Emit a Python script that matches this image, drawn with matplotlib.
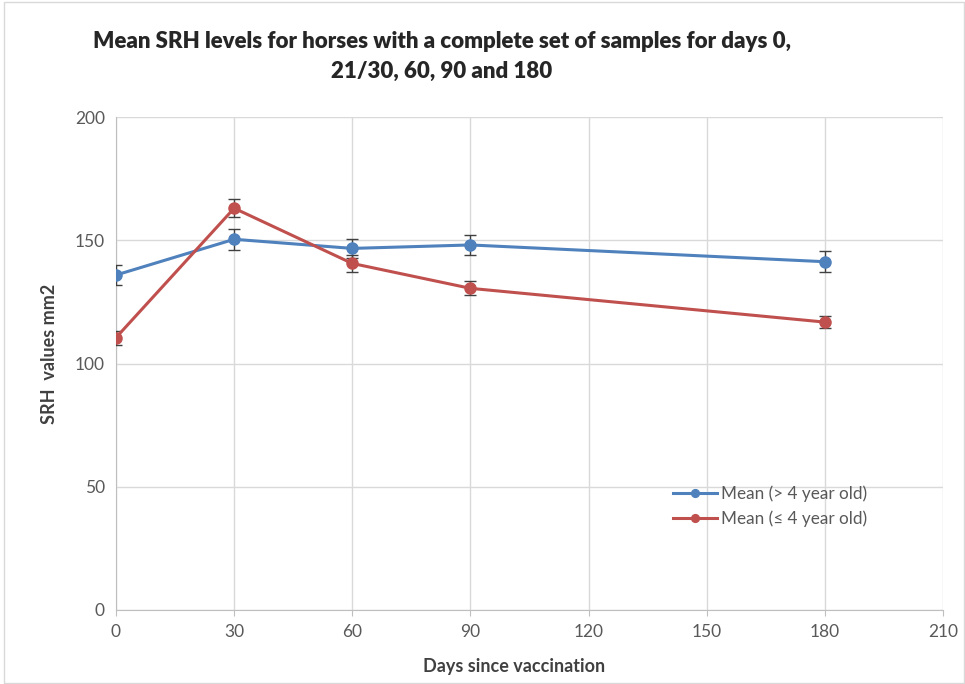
import matplotlib.pyplot as plt
from matplotlib.patches import Rectangle

plt.rcParams['font.family'] = ['Lato', 'DejaVu Sans']

days = [0, 30, 60, 90, 180]
old_mean = [135.9, 150.4, 146.7, 148.1, 141.3]
old_err = [4.2, 4.3, 3.8, 4.0, 4.2]
young_mean = [110.5, 163.0, 140.6, 130.5, 116.8]
young_err = [2.8, 3.7, 3.4, 2.9, 2.5]
labels = ['Mean (> 4 year old)', 'Mean (\u2264 4 year old)']

fig = plt.figure(figsize=(9.65, 6.84), dpi=100)
ax = fig.add_axes([0.1202, 0.1082, 0.857, 0.7207])

ax.errorbar(days, old_mean, yerr=old_err, color='#4f81bd', lw=2.2, marker='o', ms=8,
            ecolor='#404040', elinewidth=1, capsize=4, capthick=1, label=labels[0], zorder=3)
ax.errorbar(days, young_mean, yerr=young_err, color='#c0504d', lw=2.2, marker='o', ms=8,
            ecolor='#404040', elinewidth=1, capsize=4, capthick=1, label=labels[1], zorder=3)

ax.set_xlim(0, 210)
ax.set_ylim(0, 200)
ax.set_xticks(range(0, 211, 30))
ax.set_yticks(range(0, 201, 50))
ax.grid(True, color='#d9d9d9', lw=1)
ax.set_axisbelow(True)
for s in ['top', 'right']:
    ax.spines[s].set_visible(False)
for s in ['left', 'bottom']:
    ax.spines[s].set_color('#bfbfbf')
ax.tick_params(axis='both', colors='#595959', labelsize=12.5, length=4)
ax.tick_params(axis='y', length=0, pad=8)
ax.tick_params(axis='x', color='#bfbfbf', pad=6)

ax.set_xlabel('Days since vaccination', fontsize=13, fontweight='bold', color='#404040')
ax.set_ylabel('SRH  values mm2', fontsize=13, fontweight='bold', color='#404040')
ax.xaxis.set_label_coords(0.481, -0.098)
ax.yaxis.set_label_coords(-0.07, 0.52)

h, l = ax.get_legend_handles_labels()
h = [x[0] for x in h]
ax.legend(h, l, loc='center left', bbox_to_anchor=(0.655, 0.21), frameon=False,
          fontsize=12.3, labelcolor='#595959', handlelength=2.6, handletextpad=0.2,
          labelspacing=0.5, markerscale=0.7)

fig.text(0.458, 0.955, 'Mean SRH levels for horses with a complete set of samples for days 0,\n21/30, 60, 90 and 180',
         ha='center', va='top', fontsize=16, fontweight='heavy', color='#262626',
         multialignment='center', linespacing=1.55)

fig.patches.append(Rectangle((0.004, 0.002), 0.995, 0.995, transform=fig.transFigure,
                             fill=False, edgecolor='#d9d9d9', lw=1))

fig.savefig('out.png', dpi=100, facecolor='white')
